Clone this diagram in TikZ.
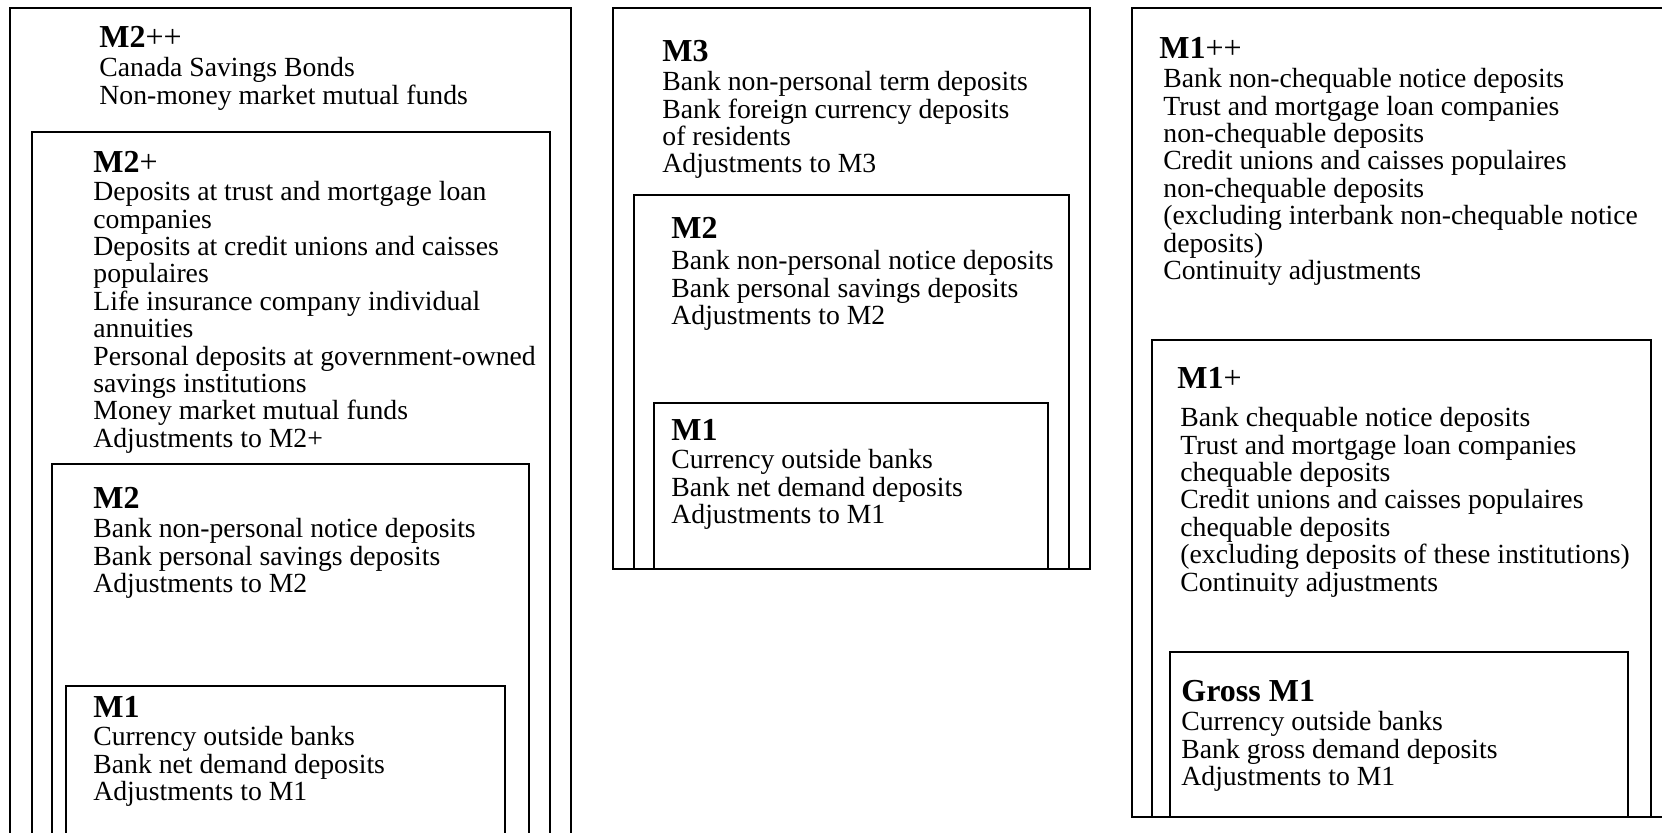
\documentclass[tikz,border=0pt]{standalone}
\usepackage{fontspec}
\setmainfont{Liberation Serif}
\usepackage{tikz}

\begin{document}
\begin{tikzpicture}[x=0.5pt,y=0.5pt,
  box/.style={black,line width=0.8pt},
  head/.style={anchor=base west,font=\fontsize{16}{16}\selectfont\bfseries},
  items/.style={anchor=north west,align=left,font=\fontsize{13.85}{13.7}\selectfont}]
\tikzstyle{every node}+=[inner sep=0pt]
\useasboundingbox (0,0) rectangle (1662,-833);
% left column: M2++ > M2+ > M2 > M1
\draw [box] (10,-833) -- (10,-8) -- (571,-8) -- (571,-833);
\draw [box] (32,-833) -- (32,-132) -- (550,-132) -- (550,-833);
\draw [box] (52,-833) -- (52,-464) -- (529,-464) -- (529,-833);
\draw [box] (66,-833) -- (66,-686) -- (505,-686) -- (505,-833);
\node [head] (mtwopp) at (99,-48) {M2\textnormal{++}};
\node [items] (mtwoppitems) at (99,-57) {Canada Savings Bonds\\Non-money market mutual funds};
\node [head] (mtwop) at (93,-173) {M2\textnormal{+}};
\node [items] (mtwopitems) at (93,-181) {Deposits at trust and mortgage loan\\companies\\Deposits at credit unions and caisses\\populaires\\Life insurance company individual\\annuities\\Personal deposits at government-owned\\savings institutions\\Money market mutual funds\\Adjustments to M2+};
\node [head] (mtwoa) at (93,-509) {M2};
\node [items] (mtwoaitems) at (93,-518) {Bank non-personal notice deposits\\Bank personal savings deposits\\Adjustments to M2};
\node [head] (monea) at (93,-718) {M1};
\node [items] (moneaitems) at (93,-726) {Currency outside banks\\Bank net demand deposits\\Adjustments to M1};
% middle column: M3 > M2 > M1
\draw [box] (613,-8) rectangle (1090,-569);
\draw [box] (634,-195) rectangle (1069,-569);
\draw [box] (654,-403) rectangle (1048,-569);
\node [head] (mthree) at (662,-62) {M3};
\node [items] (mthreeitems) at (662,-71) {Bank non-personal term deposits\\Bank foreign currency deposits\\of residents\\Adjustments to M3};
\node [head] (mtwob) at (671,-239) {M2};
\node [items] (mtwobitems) at (671,-250) {Bank non-personal notice deposits\\Bank personal savings deposits\\Adjustments to M2};
\node [head] (moneb) at (671,-441) {M1};
\node [items] (monebitems) at (671,-449) {Currency outside banks\\Bank net demand deposits\\Adjustments to M1};
% right column: M1++ > M1+ > Gross M1
\draw [box] (1662,-8) -- (1132,-8) -- (1132,-817) -- (1662,-817);
\draw [box] (1152,-817) -- (1152,-340) -- (1651,-340) -- (1651,-817);
\draw [box] (1170,-817) -- (1170,-652) -- (1628,-652) -- (1628,-817);
\node [head] (monepp) at (1159,-59) {M1\textnormal{++}};
\node [items] (moneppitems) at (1163,-68) {Bank non-chequable notice deposits\\Trust and mortgage loan companies\\non-chequable deposits\\Credit unions and caisses populaires\\non-chequable deposits\\(excluding interbank non-chequable notice\\deposits)\\Continuity adjustments};
\node [head] (monep) at (1177,-389) {M1\textnormal{+}};
\node [items] (monepitems) at (1180,-407) {Bank chequable notice deposits\\Trust and mortgage loan companies\\chequable deposits\\Credit unions and caisses populaires\\chequable deposits\\(excluding deposits of these institutions)\\Continuity adjustments};
\node [head] (grossone) at (1181,-702) {Gross M1};
\node [items] (grossoneitems) at (1181,-711) {Currency outside banks\\Bank gross demand deposits\\Adjustments to M1};
\end{tikzpicture}
\end{document}
